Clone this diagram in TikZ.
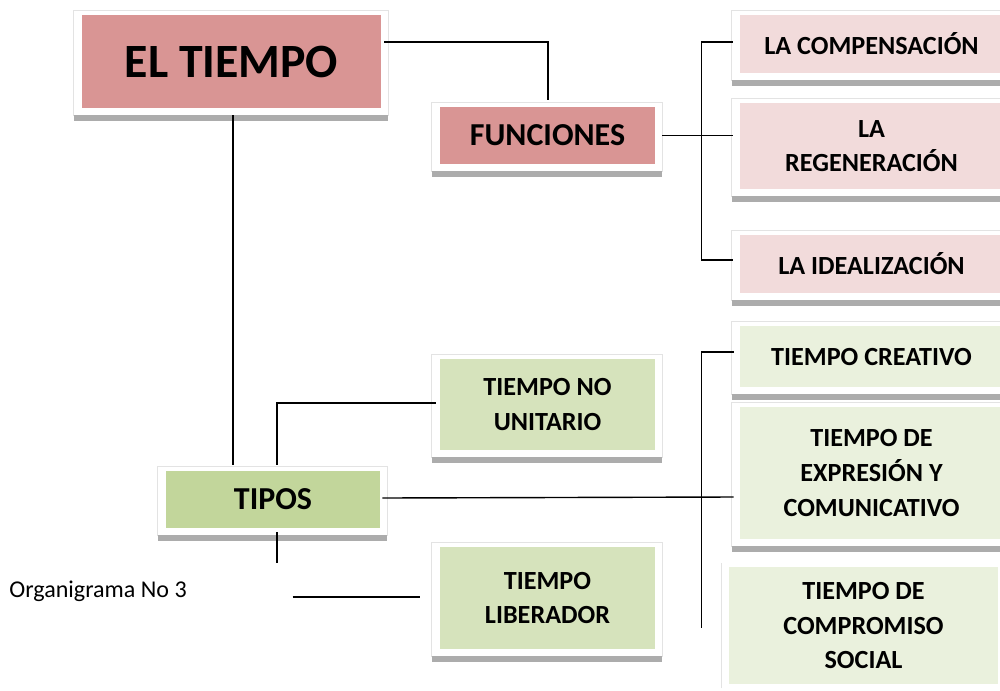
\documentclass[tikz,border=0pt]{standalone}
\usepackage{fontspec}
\setmainfont{Carlito}
\usepackage{tikz}
\usetikzlibrary{positioning,calc}
\usepackage{xcolor}
\definecolor{rojo}{HTML}{D99594}
\definecolor{rosa}{HTML}{F2DBDB}
\definecolor{verde}{HTML}{C2D69B}
\definecolor{verdeclaro}{HTML}{D6E3BC}
\definecolor{verdepalido}{HTML}{EAF1DD}

\begin{document}
\begin{tikzpicture}[
 x=0.02cm, y=-0.02cm,
 caja/.style={rectangle, inner sep=0pt, align=center, font=\bfseries\fontsize{14.9}{19.7}\selectfont},
 grande/.style={font=\bfseries\fontsize{18.2}{22}\selectfont},
 tam/.style 2 args={minimum width=#1*0.02cm, minimum height=#2*0.02cm},
 linea/.style={line width=0.8pt, black},
 marco/.style={gray!22, line width=0.6pt},
 sombra/.style={gray!65, line width=3.2pt}
]
 \useasboundingbox (0,0) rectangle (1000,690);

 % Raiz y rama de funciones
 \node[caja, fill=rojo, tam={299}{93}, font=\bfseries\fontsize{27.2}{32}\selectfont] (tiempo) at (231.5,61.5) {EL TIEMPO};
 \node[caja, grande, fill=rojo, tam={215}{57}] (funciones) at (547.5,135.5) {FUNCIONES};
 \node[caja, fill=rosa, tam={263}{58}] (compensacion) at (871.5,44) {LA COMPENSACIÓN};
 \node[caja, fill=rosa, tam={263}{86}] (regeneracion) at (871.5,146) {LA\\REGENERACIÓN};
 \node[caja, fill=rosa, tam={263}{58}] (idealizacion) at (871.5,264) {LA IDEALIZACIÓN};

 % Rama de tipos
 \node[caja, grande, fill=verde, tam={214}{57}] (tipos) at (273,499.5) {TIPOS};
 \node[caja, fill=verdeclaro, tam={215}{91}] (nounitario) at (547.5,404.5) {TIEMPO NO\\UNITARIO};
 \node[caja, fill=verdeclaro, tam={215}{102}] (liberador) at (547.5,598) {TIEMPO\\LIBERADOR};
 \node[caja, fill=verdepalido, tam={263}{61}] (creativo) at (871.5,356.5) {TIEMPO CREATIVO};
 \node[caja, fill=verdepalido, tam={263}{132}] (expresion) at (871.5,473) {TIEMPO DE\\EXPRESIÓN Y\\COMUNICATIVO};
 \node[caja, fill=verdepalido, tam={269}{117}] (compromiso) at (863.5,625.5) {TIEMPO DE\\COMPROMISO\\SOCIAL};

 \node[anchor=base west, inner sep=0pt, font=\fontsize{13.7}{16}\selectfont] (titulo) at (9,597) {Organigrama No 3};

 % Marcos con sombra abajo
 \foreach \n in {tiempo,funciones,compensacion,regeneracion,idealizacion,tipos,nounitario,liberador,creativo,expresion} {
  \draw[marco] ($(\n.south west)+(-8,8)$) |- ($(\n.north east)+(7,-4)$) -- ($(\n.south east)+(7,8)$);
  \draw[sombra] ($(\n.south west)+(-8,9.5)$) -- ($(\n.south east)+(7,9.5)$);
 }
 \draw[marco] ($(compromiso.south west)+(-7,4)$) -- ($(compromiso.north west)+(-7,-4)$);

 % EL TIEMPO a FUNCIONES y a TIPOS
 \draw[linea] ([shift={(3,-19.5)}]tiempo.east) -| ([shift={(0.5,-7)}]funciones.north);
 \coordinate (bajada) at ([shift={(1.5,7)}]tiempo.south);
 \draw[linea] (bajada) -- ($(bajada |- tipos.north)+(0,-6)$);

 % FUNCIONES a sus ramas
 \draw[linea] ([shift={(7,0)}]funciones.east) -- ($(funciones.east -| regeneracion.west)+(-7,0)$);
 \draw[linea] ([shift={(-7,-2)}]compensacion.west) -| ([shift={(-38,-4)}]idealizacion.west) -- ([shift={(-7,-4)}]idealizacion.west);

 % TIPOS a sus ramas
 \draw[linea] ([shift={(4,-6)}]tipos.north) |- ([shift={(-4,-1.5)}]nounitario.west);
 \coordinate (cola) at ([shift={(4,35)}]tipos.south);
 \draw[linea] ([shift={(4,4)}]tipos.south) -- (cola);
 \coordinate (suelta) at ([shift={(-147,-1)}]liberador.west);
 \draw[linea] (suelta) -- ([shift={(-20,-1)}]liberador.west);
 \draw[linea] ([shift={(2,-1.5)}]tipos.east) -- ([shift={(-6,24)}]expresion.west);
 \coordinate (pie) at ([shift={(-27,2.5)}]compromiso.west);
 \draw[linea] ([shift={(-6,-4.5)}]creativo.west) -| (pie);
\end{tikzpicture}
\end{document}
